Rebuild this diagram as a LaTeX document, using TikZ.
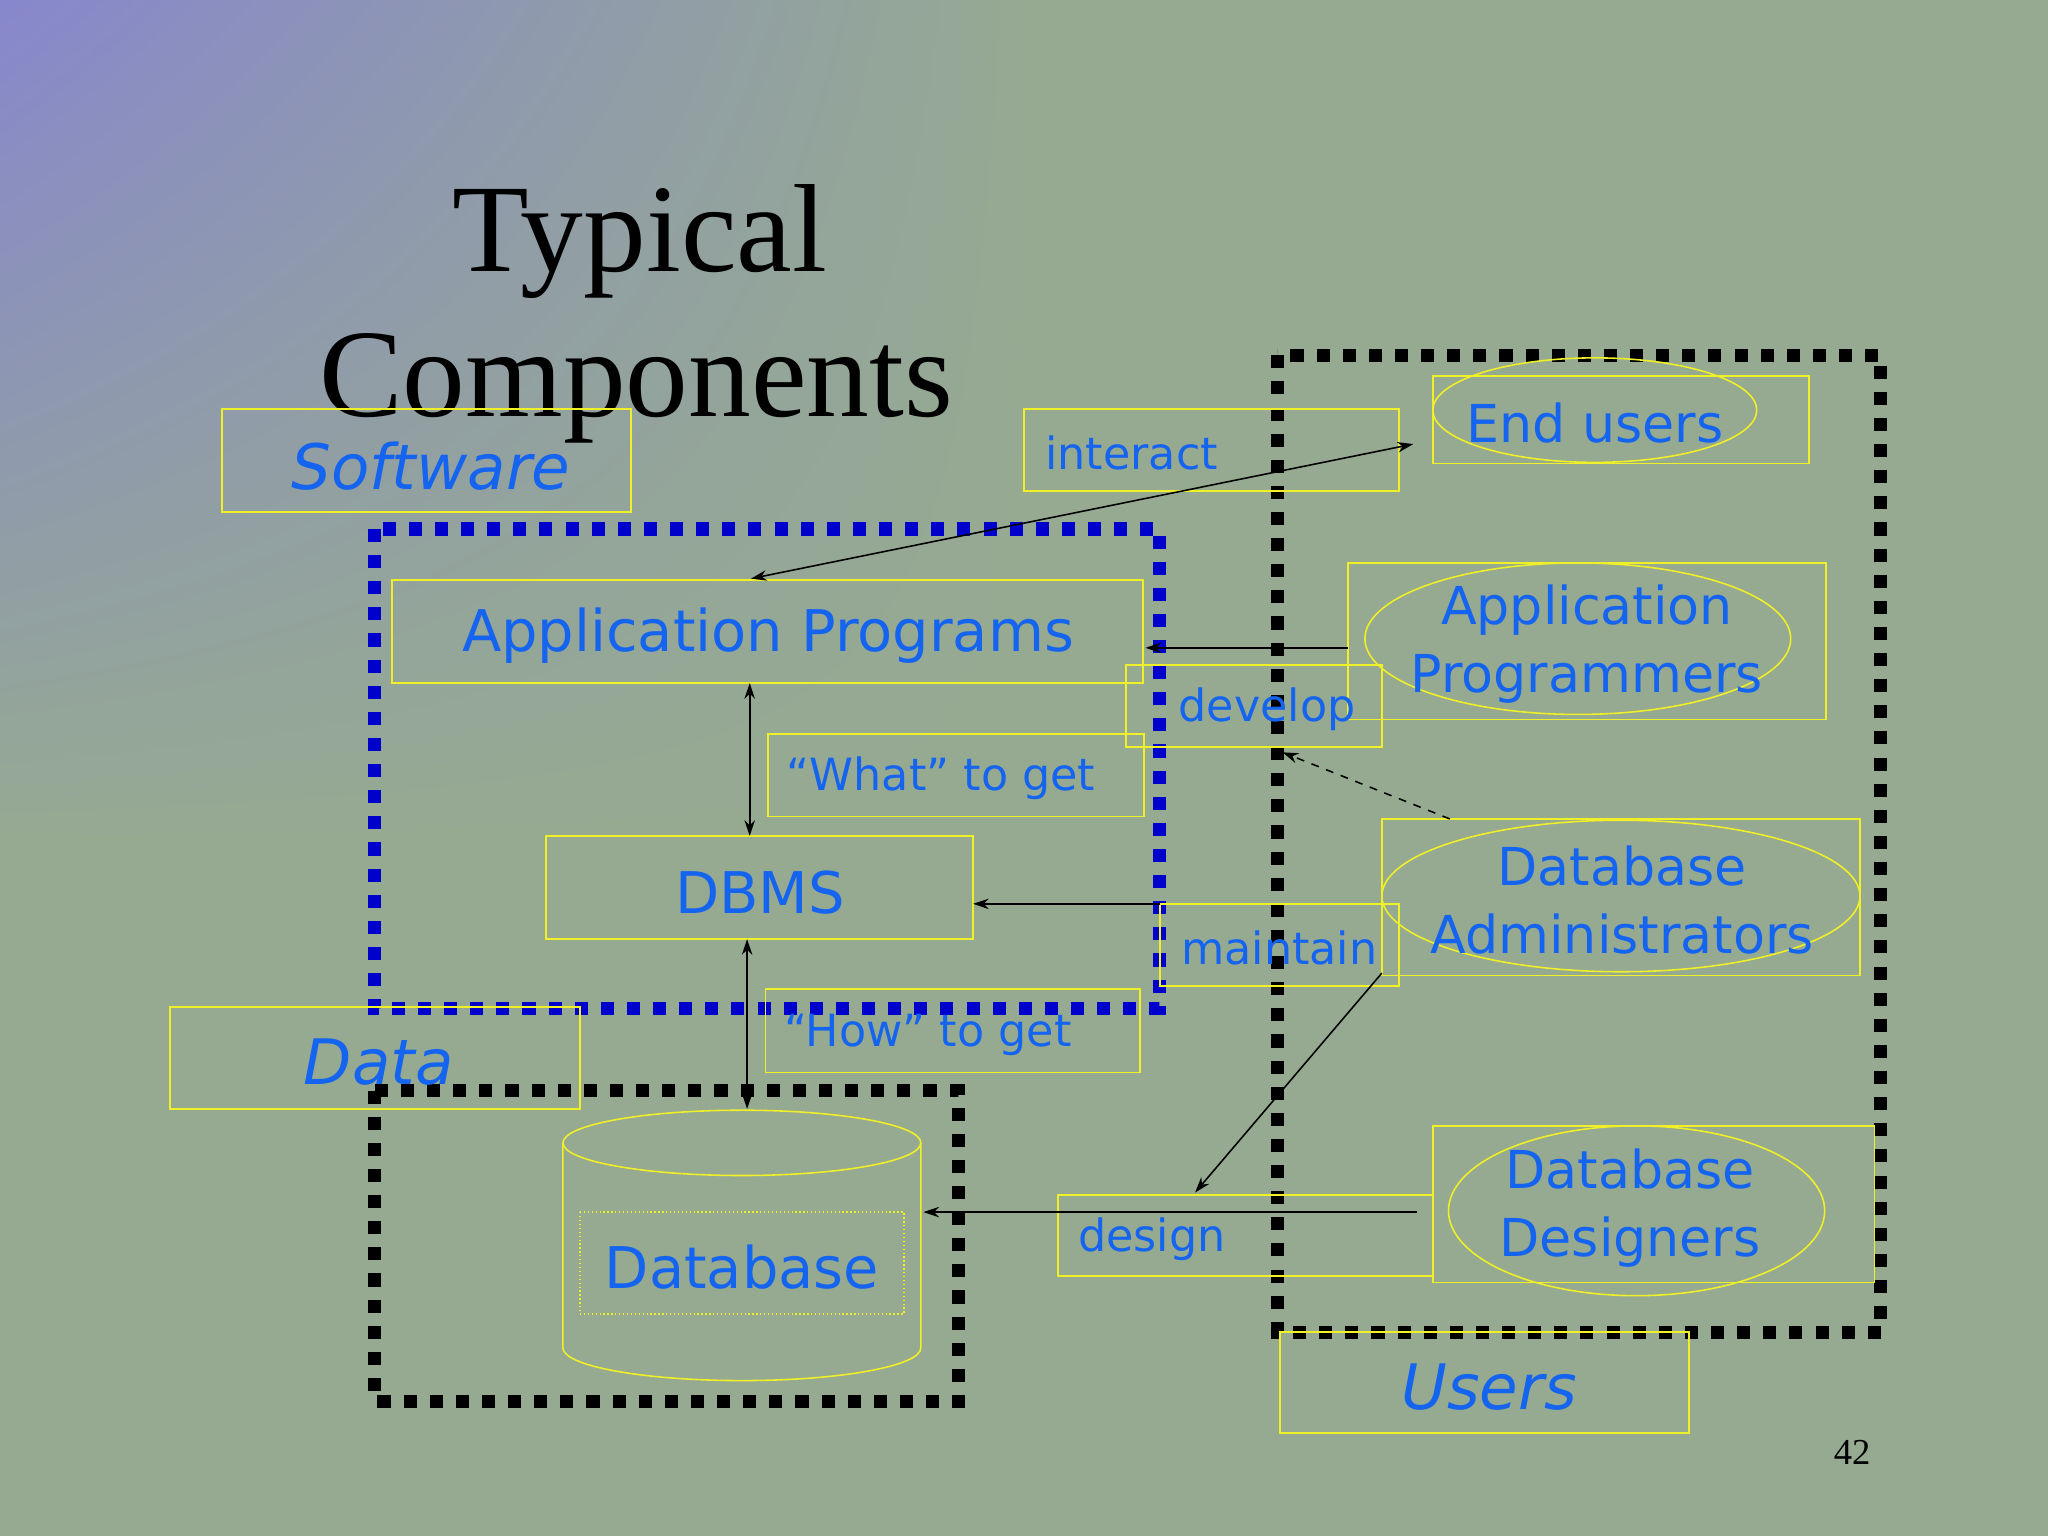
\documentclass[tikz,border=0pt]{standalone}
\usepackage{fontspec}
\setmainfont{Liberation Serif}
\newfontfamily\sansf{DejaVu Sans}
\usetikzlibrary{arrows.meta,shapes.geometric,shadings}
\definecolor{bg}{RGB}{150,170,145}
\definecolor{bgp}{RGB}{135,135,205}
\definecolor{txt}{RGB}{20,100,240}
\definecolor{ybox}{RGB}{240,240,40}
\begin{document}
\begin{tikzpicture}[x=0.5pt,y=-0.5pt,
  yb/.style={draw=ybox,line width=0.6pt},
  lab/.style={text=txt,font=\sansf\fontsize{17}{20}\selectfont,inner sep=0},
  big/.style={text=txt,font=\sansf\fontsize{22}{26}\selectfont,inner sep=0},
  bdash/.style={line width=5pt,dash pattern=on 5pt off 5pt},
  arr/.style={-{Stealth[length=6pt,width=4pt]},line width=0.6pt},
  darr/.style={{Stealth[length=6pt,width=4pt]}-{Stealth[length=6pt,width=4pt]},line width=0.6pt}]
\useasboundingbox (0,0) rectangle (1568,1176);
\fill[bg] (0,0) rectangle (1568,1176);
\shade[upper left=bgp,upper right=bg,lower left=bg,lower right=bg] (0,0) rectangle (800,650);
% title
\node[font=\fontsize{48}{52}\selectfont] (t1) at (490,185) {Typical};
\node[font=\fontsize{48}{52}\selectfont] (t2) at (487,297) {Components};
% dashed groups
\draw[bdash,black] (978,272) rectangle (1440,1020);
\draw[bdash,blue!80!black] (287,405) rectangle (888,772);
\draw[bdash,black] (287,835) rectangle (734,1073);
% boxes
\draw[yb] (170,313) rectangle (483,392);
\node[big,font=\sansf\itshape\fontsize{24}{26}\selectfont] (sw) at (330,357) {Software};
\draw[yb] (784,313) rectangle (1071,376);
\node[lab,anchor=west] (int) at (800,347) {interact};
\draw[yb] (1097,288) rectangle (1385,355);
\draw[ybox,line width=0.6pt] (1221,314) ellipse (124 and 40);
\node[lab,font=\sansf\fontsize{20}{22}\selectfont] (eu) at (1221,324) {End users};
\draw[yb] (1032,431) rectangle (1398,551);
\draw[ybox,line width=0.6pt] (1208,489) ellipse (163 and 58);
\node[lab,align=center,font=\sansf\fontsize{20}{26}\selectfont] (ap) at (1215,493) {Application\\Programmers};
\draw[yb] (862,509) rectangle (1058,572);
\node[lab,anchor=west] (dev) at (902,543) {develop};
\draw[yb] (300,444) rectangle (875,523);
\node[big] (apg) at (588,487) {Application Programs};
\draw[yb] (588,562) rectangle (876,625);
\node[lab,anchor=west] (what) at (602,596) {“What” to get};
\draw[yb] (418,640) rectangle (745,719);
\node[big] (dbms) at (582,683) {DBMS};
\draw[yb] (1058,627) rectangle (1424,747);
\draw[ybox,line width=0.6pt] (1241,686) ellipse (183 and 58);
\node[lab,align=center,font=\sansf\fontsize{20}{26}\selectfont] (dba) at (1242,689) {Database\\Administrators};
\draw[yb] (888,692) rectangle (1071,755);
\node[lab,anchor=west] (mt) at (904,726) {maintain};
\draw[yb] (586,757) rectangle (873,821);
\node[lab,anchor=west] (how) at (600,792) {“How” to get};
\draw[yb] (130,771) rectangle (444,849);
\node[big,font=\sansf\itshape\fontsize{24}{26}\selectfont] (data) at (290,813) {Data};
% cylinder
\draw[ybox,line width=0.6pt] (431,875) -- (431,1032) arc[start angle=180,end angle=0,x radius=137,y radius=25] -- (705,875);
\draw[ybox,line width=0.6pt] (568,875) ellipse (137 and 25);
\draw[ybox,densely dotted,line width=0.5pt] (444,928) rectangle (692,1006);
\node[big] (db) at (568,970) {Database};
\draw[yb] (810,915) rectangle (1097,977);
\node[lab,anchor=west] (des) at (825,949) {design};
\draw[yb] (1097,862) rectangle (1435,982);
\draw[ybox,line width=0.6pt] (1253,927) ellipse (144 and 65);
\node[lab,align=center,font=\sansf\fontsize{20}{26}\selectfont] (dd) at (1248,925) {Database\\Designers};
\draw[yb] (980,1020) rectangle (1293,1097);
\node[big,font=\sansf\itshape\fontsize{24}{26}\selectfont] (us) at (1140,1062) {Users};
\node[font=\fontsize{14}{16}\selectfont] (pg) at (1418,1112) {42};
% connector endpoints
\coordinate (a1) at (1082,340); \coordinate (a2) at (575,443);
\coordinate (b1) at (1032,496); \coordinate (b2) at (877,496);
\coordinate (c1) at (1110,627); \coordinate (c2) at (982,576);
\coordinate (d1) at (574,523); \coordinate (d2) at (574,640);
\coordinate (e1) at (888,692); \coordinate (e2) at (745,692);
\coordinate (f1) at (572,719); \coordinate (f2) at (572,849);
\coordinate (g1) at (1058,745); \coordinate (g2) at (915,913);
\coordinate (h1) at (1085,928); \coordinate (h2) at (707,928);
\draw[darr] (a1) -- (a2);
\draw[arr] (b1) -- (b2);
\draw[arr,dashed] (c1) -- (c2);
\draw[darr] (d1) -- (d2);
\draw[arr] (e1) -- (e2);
\draw[darr] (f1) -- (f2);
\draw[arr] (g1) -- (g2);
\draw[arr] (h1) -- (h2);
\end{tikzpicture}
\end{document}
